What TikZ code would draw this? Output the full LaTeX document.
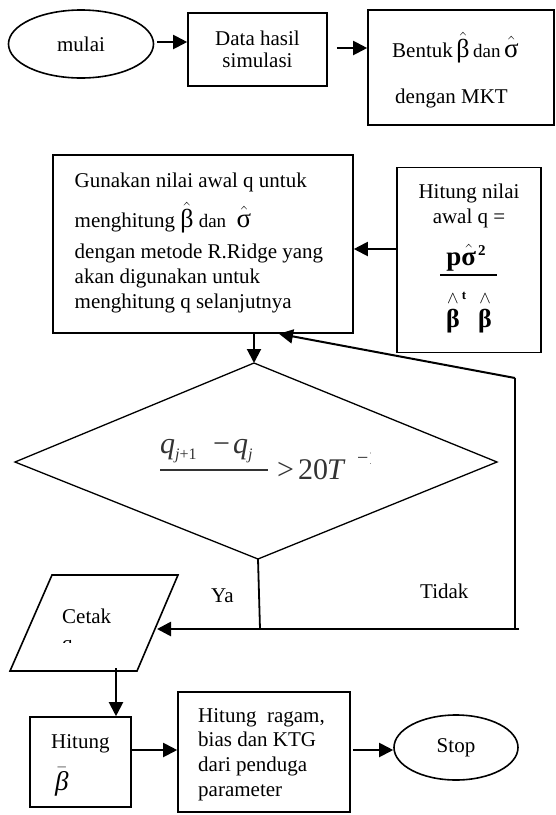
\documentclass[tikz,border=0pt]{standalone}
\usepackage{amsmath}
\usepackage{fontspec}
\setmainfont{Liberation Serif}
\usetikzlibrary{shapes.geometric,arrows.meta}
\newcommand\hbeta{\smash{\mbox{\fontsize{26}{26}\selectfont$\hat{\mbox{β}}$}}}
\newcommand\hsigma{\smash{\mbox{\fontsize{27}{27}\selectfont$\hat{\mbox{σ}}$}}}
\newcommand\smalldan{{\fontsize{19}{20}\selectfont dan}}
\newcommand\fbig{\fontsize{30}{32}\selectfont}
\newcommand\fsub[1]{\raisebox{-6pt}{\fontsize{16}{16}\selectfont #1}}
\tikzset{
  box/.style={draw, line width=1.6pt, rectangle, inner sep=0pt},
  oval/.style={draw, line width=1.6pt, ellipse, inner sep=0pt},
  txt/.style={inner sep=0pt, anchor=base west},
  ctxt/.style={inner sep=0pt, anchor=base},
  ftxt/.style={inner sep=0pt, anchor=base west, text=black!80},
  conn/.style={line width=2pt, -{Triangle[length=14pt,width=14pt]}},
  plainline/.style={line width=1.8pt},
  thinline/.style={line width=1.3pt},
}
\begin{document}
\begin{tikzpicture}[x=1pt,y=-1pt, every node/.style={font=\fontsize{21}{22}\selectfont}]
\path[use as bounding box, fill=white] (0,0) rectangle (556,815);

% top row
\node[oval, minimum width=145pt, minimum height=68pt] (mulai) at (81,44) {mulai};
\node[box, minimum width=139pt, minimum height=73pt, align=center] (data) at (257.5,49.5) {Data hasil\\simulasi};
\node[box, minimum width=186pt, minimum height=115pt] (bentuk) at (461,67.5) {};
\node[txt] (bt1) at (392,57) {Bentuk\,\hbeta\,\smalldan\,\hsigma};
\node[txt] (bt2) at (395,103) {dengan MKT};
\draw[conn] ([xshift=3pt]mulai.east |- 0,42) -- (data.west |- 0,42);
\draw[conn] ([xshift=9pt]data.east |- 0,48) -- (bentuk.west |- 0,48);

% Gunakan box
\node[box, minimum width=300pt, minimum height=178pt] (gun) at (203,244) {};
\node[txt] (g1) at (74.5,187) {Gunakan nilai awal q untuk};
\node[txt] (g2) at (74.5,227) {menghitung \hbeta\ \smalldan\ \ \hsigma};
\node[txt] (g3) at (74.5,258) {dengan metode R.Ridge yang};
\node[txt] (g4) at (74.5,283) {akan digunakan untuk};
\node[txt] (g5) at (74.5,308) {menghitung q selanjutnya};

% initial q box
\node[box, minimum width=144pt, minimum height=185pt] (init) at (469,260) {};
\node[ctxt] (i1) at (469,198) {Hitung nilai};
\node[ctxt] (i2) at (469,223) {awal q =};
\node[ctxt] (i3) at (466,265) {\fontsize{27}{27}\selectfont\bfseries p\smash{$\hat{\mbox{σ}}$}\hspace{2pt}\raisebox{10pt}{\fontsize{15}{15}\selectfont 2}};
\draw[line width=1.5pt] (440,275) -- (497,275);
\node[ctxt] (i4) at (469,327) {\fontsize{26}{26}\selectfont\bfseries \smash{$\overset{\wedge}{\mbox{β}}$}\hspace{2pt}\raisebox{28pt}{\fontsize{13}{13}\selectfont t}\hspace{12pt}\smash{$\overset{\wedge}{\mbox{β}}$}};
\draw[conn] (init.west |- 0,249) -- (gun.east |- 0,249);

% decision
\coordinate (dtop) at (254,363);
\coordinate (dleft) at (15,462);
\coordinate (dright) at (497,462);
\coordinate (dbot) at (258,559);
\draw[thinline] (dtop) -- (dright) -- (dbot) -- (dleft) -- cycle;
\draw[conn] ([xshift=51pt]gun.south) -- (dtop);

\begin{scope}
\clip (150,425) rectangle (370,498);
\node[ftxt] (fq1) at (160,453) {\fbig\itshape q\fsub{j\upshape +1}};
\node[ftxt] (fmin) at (213,453) {\fbig −};
\node[ftxt] (fq2) at (233,453) {\fbig\itshape q\fsub{j}};
\draw[black!80, line width=1.6pt] (160,470) -- (268,470);
\node[ftxt] (fden) at (200,515) {\fbig\itshape q\fsub{j}};
\node[ftxt] (fgt) at (277,479) {\fbig >};
\node[ftxt] (f20) at (298,479) {\fbig 20};
\node[ftxt] (fT) at (327,479) {\fbig\itshape T};
\node[ftxt] (fsup) at (357,464) {\fontsize{20}{20}\selectfont −1};
\end{scope}

% Cetak parallelogram
\coordinate (ctl) at (52,575);
\coordinate (ctr) at (178,575);
\coordinate (cbr) at (137,671);
\coordinate (cbl) at (10,671);
\draw[box] (ctl) -- (ctr) -- (cbr) -- (cbl) -- cycle;
\node[txt] (ct1) at (62,623) {Cetak};
\begin{scope}
\clip (40,600) rectangle (150,642);
\node[txt] (ct2) at (62,650) {q};
\end{scope}

% Ya / Tidak lines
\coordinate (yj) at (260,629);
\coordinate (mid) at (307,629);
\coordinate (cin) at (157,629);
\coordinate (fb) at (515,378);
\coordinate (fbc) at (515,629);
\coordinate (rend) at (519,629);
\draw[plainline] (dbot) -- (yj);
\draw[plainline] (rend) -- (mid);
\draw[conn, line width=2.6pt] (mid) -- (cin);
\draw[plainline] (fbc) -- (fb);
\draw[conn] (fb) -- ([xshift=76pt]gun.south);
\node[txt] (ya) at (211,602) {Ya};
\node[txt] (tidak) at (420,598) {Tidak};

% bottom row
\node[box, minimum width=101pt, minimum height=90pt] (hit) at (80.5,762) {};
\node[txt] (h1) at (51,748) {Hitung};
\node[txt] (h2) at (55,790) {\fontsize{27}{27}\selectfont\smash{$\bar{\mbox{\itshape β}}$}};
\coordinate (cbot) at (116,668);
\draw[conn] (cbot) -- (cbot |- hit.north);

\node[box, minimum width=172pt, minimum height=120pt] (ragam) at (264,752) {};
\node[txt] (r1) at (198,722) {Hitung\ \ ragam,};
\node[txt] (r2) at (198,746) {bias dan KTG};
\node[txt] (r3) at (198,771) {dari penduga};
\node[txt] (r4) at (198,796) {parameter};
\draw[conn] (hit.east |- 0,750) -- (ragam.west |- 0,750);

\node[oval, minimum width=124pt, minimum height=65pt] (stop) at (456,747.5) {Stop};
\draw[conn] ([xshift=2pt]ragam.east |- 0,750) -- (stop.west |- 0,750);
\end{tikzpicture}
\end{document}
